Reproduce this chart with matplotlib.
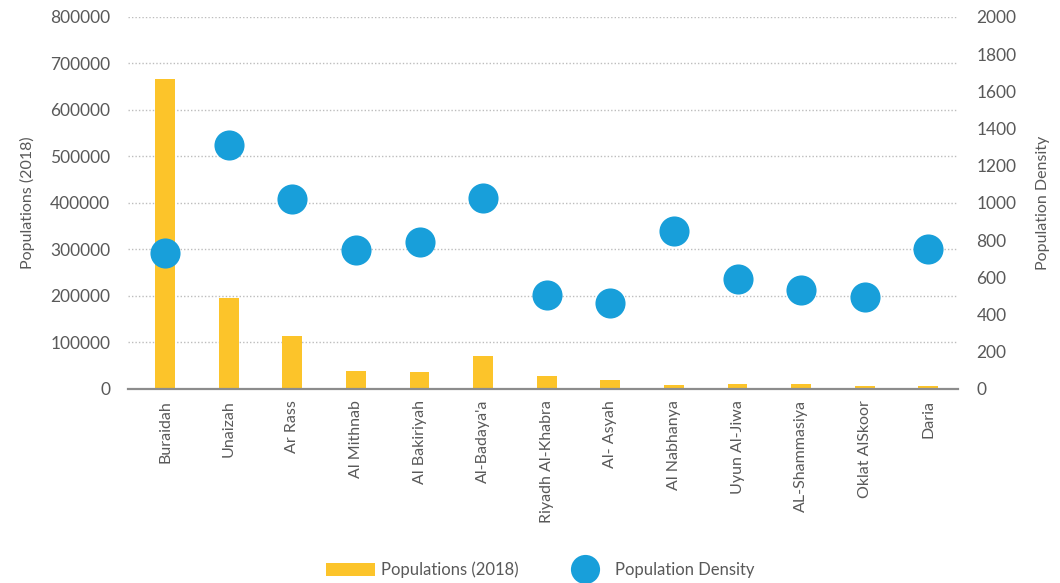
import matplotlib
matplotlib.use("Agg")
import matplotlib.pyplot as plt
from matplotlib.patches import Patch
from matplotlib.lines import Line2D

cities = ["Buraidah", "Unaizah", "Ar Rass", "Al Mithnab", "Al Bakiriyah", "Al-Badaya'a",
          "Riyadh Al-Khabra", "Al- Asyah", "Al Nabhanya", "Uyun Al-Jiwa",
          "AL-Shammasiya", "Oklat AlSkoor", "Daria"]
population_2018 = [667000, 196000, 113000, 39400, 37200, 71600, 27300, 20000,
                   8000, 11400, 10000, 7000, 7000]
density = [729, 1313, 1023, 746, 792, 1025, 504, 462, 851, 590, 531, 495, 751]

left_ticks = [0, 100000, 200000, 300000, 400000, 500000, 600000, 700000, 800000]
right_ticks = [0, 200, 400, 600, 800, 1000, 1200, 1400, 1600, 1800, 2000]

BAR = "#FCC42A"
DOT = "#189FDA"
TXT = "#595959"
FONT = "Lato"

fig = plt.figure(figsize=(10.6, 5.83), dpi=100)
ax = fig.add_axes([0.121, 0.333, 0.783, 0.638])
ax2 = ax.twinx()

x = list(range(len(cities)))
ax.bar(x, population_2018, width=0.31, color=BAR, zorder=2)
ax2.scatter(x, density, s=470, color=DOT, zorder=3, linewidths=0)

ax.set_ylim(0, 800000)
ax2.set_ylim(0, 2000)
ax.set_xlim(-0.58, 12.47)
ax.set_yticks(left_ticks)
ax.set_yticklabels([str(v) for v in left_ticks])
ax2.set_yticks(right_ticks)
ax2.set_yticklabels([str(v) for v in right_ticks])
ax.set_xticks(x)
ax.set_xticklabels(cities, rotation=90)

ax.grid(axis="y", linestyle=(0, (1, 1.5)), color="#BDBDBD", linewidth=1, zorder=0)
ax.set_axisbelow(True)

for a in (ax, ax2):
    for side in ("top", "left", "right", "bottom"):
        a.spines[side].set_visible(False)
    a.tick_params(length=0, colors=TXT)
    a.tick_params(axis="y", labelsize=12.5, pad=13)
    for lab in a.get_yticklabels() + a.get_xticklabels():
        lab.set_fontfamily(FONT)
        lab.set_color(TXT)
ax.tick_params(axis="x", labelsize=11.5, pad=8)

ax.axhline(0, color="#8C8C8C", linewidth=1.6, zorder=4, clip_on=False)

ax.set_ylabel("Populations (2018)", fontsize=11.5, color=TXT, fontfamily=FONT, labelpad=11)
ax2.set_ylabel("Population Density", fontsize=11.5, color=TXT, fontfamily=FONT, labelpad=14)

handles = [
    Patch(facecolor=BAR, edgecolor="none"),
    Line2D([0], [0], marker="o", linestyle="none", markersize=21, markerfacecolor=DOT,
           markeredgewidth=0),
]
fig.legend(handles, ["Populations (2018)", "Population Density"], loc="lower center",
           bbox_to_anchor=(0.51, -0.018), ncol=2, frameon=False,
           prop={"family": FONT, "size": 12}, labelcolor=TXT,
           handlelength=2.9, handleheight=0.8, columnspacing=2.5, handletextpad=0.4)

fig.savefig("out.png", dpi=100)
